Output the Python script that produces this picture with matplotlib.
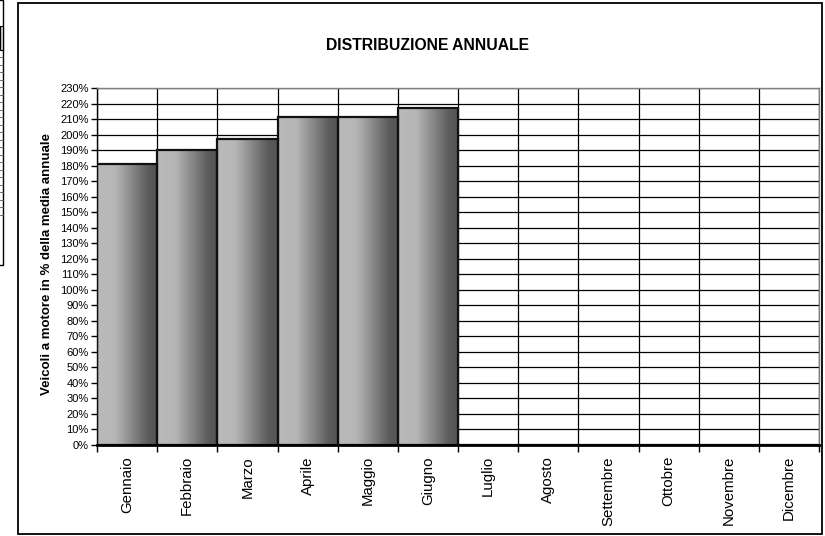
import numpy as np
import matplotlib
matplotlib.use("Agg")
import matplotlib.pyplot as plt
from matplotlib.patches import Rectangle
from matplotlib.lines import Line2D
from matplotlib.colors import LinearSegmentedColormap

plt.rcParams['font.family'] = ['Liberation Sans', 'DejaVu Sans']

months = ["Gennaio", "Febbraio", "Marzo", "Aprile", "Maggio", "Giugno",
          "Luglio", "Agosto", "Settembre", "Ottobre", "Novembre", "Dicembre"]
values = [181, 190, 197, 211.5, 211, 217, None, None, None, None, None, None]
yticks = list(range(0, 231, 10))
title = "DISTRIBUZIONE ANNUALE"
ylabel = "Veicoli a motore in % della media annuale"

W, H = 825, 536
fig = plt.figure(figsize=(W / 100, H / 100), dpi=100)

# outer chart frame
fig.add_artist(Rectangle((18 / W, 1 - 534 / H), (822 - 18) / W, (534 - 3) / H,
                         transform=fig.transFigure, fill=False, lw=1.3, ec='black'))
# partially visible table at the left border
fig.add_artist(Rectangle((-2 / W, 1 - 265 / H), 5 / W, 265 / H,
                         transform=fig.transFigure, fill=False, lw=1.0, ec='black'))
fig.add_artist(Rectangle((0, 1 - 50 / H), 3 / W, 24 / H,
                         transform=fig.transFigure, fill=True, lw=0.8, fc='#c8c8c8', ec='black'))
for yy in np.arange(57, 215, 7.5):
    fig.add_artist(Line2D([0, 3 / W], [1 - yy / H, 1 - yy / H], transform=fig.transFigure,
                          lw=0.6, color='#555555'))

ax = fig.add_axes([97 / W, 1 - 445 / H, (819 - 97) / W, (445 - 88) / H])

x = np.arange(len(months))
vals = np.array([np.nan if v is None else v for v in values], dtype=float)

ax.set_xlim(-0.5, len(months) - 0.5)
ax.set_ylim(0, 230)

# grid
for yv in yticks[1:]:
    ax.axhline(yv, color='black', lw=0.9, zorder=1)
for xv in np.arange(-0.5, len(months) + 0.5, 1):
    ax.axvline(xv, color='black', lw=0.9, zorder=1)

bars = ax.bar(x, np.nan_to_num(vals), width=1.0, color='none', edgecolor='#111111',
              lw=1.6, zorder=3)

cmap = LinearSegmentedColormap.from_list('g', [(0, '#bababa'), (0.3, '#b6b6b6'),
                                               (0.85, '#5a5a5a'), (1, '#555555')])
grad = np.linspace(0, 1, 256).reshape(1, -1)
for b, v in zip(bars, vals):
    if np.isnan(v):
        continue
    x0 = b.get_x()
    im = ax.imshow(grad, cmap=cmap, aspect='auto', extent=[x0, x0 + b.get_width(), 0, v],
                   zorder=2, interpolation='bilinear')
    im.set_clip_path(b)
ax.set_xlim(-0.5, len(months) - 0.5)
ax.set_ylim(0, 230)

for s in ['top', 'right']:
    ax.spines[s].set_color('#808080')
    ax.spines[s].set_linewidth(1.0)
ax.spines['left'].set_color('black')
ax.spines['left'].set_linewidth(1.0)
ax.spines['bottom'].set_color('black')
ax.spines['bottom'].set_linewidth(2.0)
ax.spines['bottom'].set_zorder(5)

ax.set_yticks(yticks)
ax.set_yticklabels([f"{t}%" for t in yticks], fontsize=8)
ax.tick_params(axis='y', length=4, width=1, direction='out', pad=2)

ax.set_xticks(np.arange(-0.5, len(months) + 0.5, 1))
ax.set_xticklabels([])
ax.tick_params(axis='x', which='major', length=5, width=1, direction='out')
ax.set_xticks(x, minor=True)
ax.set_xticklabels(months, minor=True, rotation=90, fontsize=10.8)
ax.tick_params(axis='x', which='minor', length=0, pad=8)
for lab in ax.get_xticklabels(minor=True):
    lab.set_verticalalignment('top')

ax.set_ylabel(ylabel, fontsize=9.5, fontweight='bold')
ax.yaxis.set_label_coords((53 - 97) / (819 - 97), (445 - 264) / (445 - 88))
fig.text(428 / W, 1 - 45 / H, title, ha='center', va='center', fontsize=11.3, fontweight='bold')

fig.savefig("out.png", dpi=100)
